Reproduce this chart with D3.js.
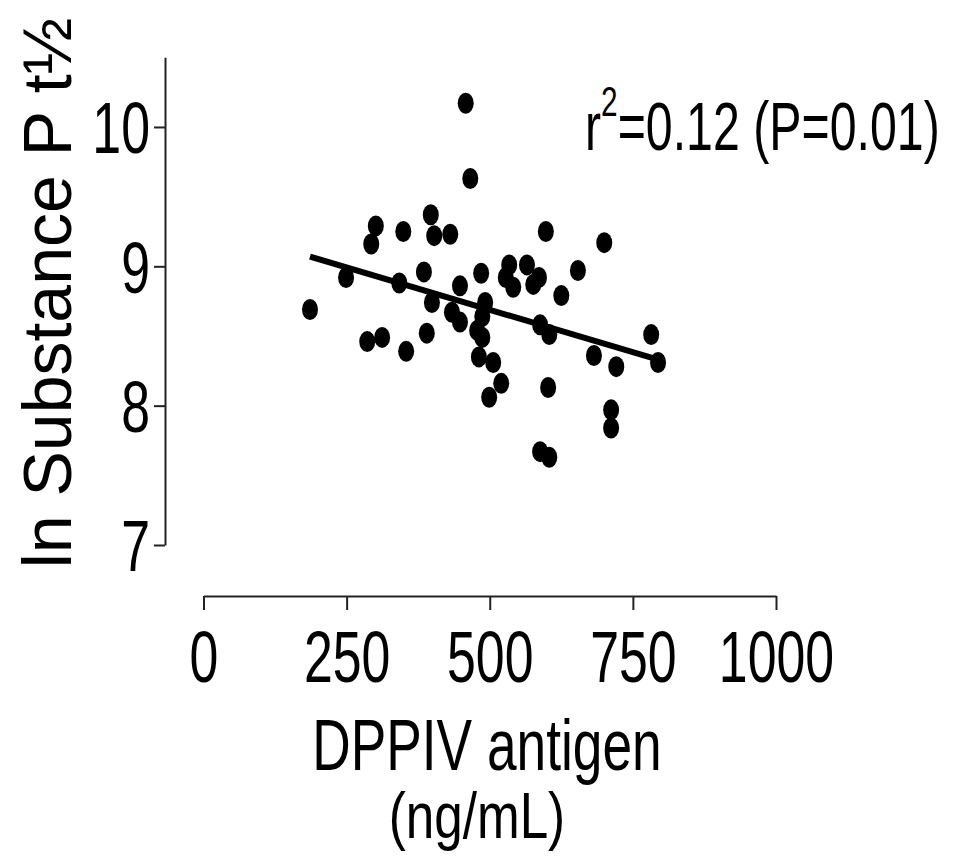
<!DOCTYPE html>
<html>
<head>
<meta charset="utf-8">
<script src="https://cdn.jsdelivr.net/npm/d3@7"></script>
<style>
  body { margin: 0; background: #fff; }
  text { font-family: "Liberation Sans", Arial, sans-serif; }
</style>
</head>
<body>
<script>
// DPPIV antigen (ng/mL) vs ln Substance P t1/2
const dppiv = [458, 466, 397, 301, 293, 349, 403, 431, 598, 249,
               342, 385, 448, 485, 534, 528, 565, 541, 576, 186,
               399, 492, 434, 448, 487, 478, 487, 588, 390, 286,
               312, 354, 481, 506, 520, 499, 588, 700, 586, 654,
               625, 604, 782, 682, 721, 794, 602, 712, 712, 604];
const lnSP  = [10.17, 9.63, 9.37, 9.29, 9.16, 9.25, 9.22, 9.23, 9.25, 8.92,
               8.88, 8.96, 8.86, 8.95, 9.01, 8.92, 9.01, 8.85, 8.87, 8.69,
               8.74, 8.74, 8.67, 8.60, 8.64, 8.54, 8.49, 8.58, 8.52, 8.46,
               8.49, 8.39, 8.35, 8.31, 8.16, 8.06, 7.67, 9.17, 8.92, 8.97,
               8.79, 8.51, 8.51, 8.36, 8.28, 8.31, 8.13, 7.97, 7.84, 7.63];

// regression line end points
const fitX = [186, 794];
const fitY = [9.07, 8.33];

const xTicks = [0, 250, 500, 750, 1000];
const yTicks = [7, 8, 9, 10];

const w = 954,
      h = 859,
      sx = 0.72;   // narrow look, the figure uses a condensed face

const svg = d3.select("body")
              .append("svg")
              .attr("width", w)
              .attr("height", h);

const xScale = d3.scaleLinear()
                 .domain([0, 1000])
                 .range([203.5, 776]);

const yScale = d3.scaleLinear()
                 .domain([7, 10.5])
                 .range([545, 57.3]);

// squeeze a text horizontally round its own x
const narrow = (sel, k) => {
  sel.each(function() {
    const t = d3.select(this);
    const x = +t.attr("x") || 0;
    t.attr("x", x / k).attr("transform", "scale(" + k + ",1)");
  });
};

// y axis
const yAxis = d3.axisLeft(yScale)
                .tickValues(yTicks)
                .tickSizeInner(11)
                .tickSizeOuter(0)
                .tickPadding(4)
                .tickFormat(d3.format("d"));

const yG = svg.append("g")
   .attr("transform", "translate(165,0)")
   .call(yAxis);

// x axis, detached below the plot
const xAxis = d3.axisBottom(xScale)
                .tickValues(xTicks)
                .tickSizeInner(14)
                .tickSizeOuter(0)
                .tickFormat(d3.format("d"));

const xG = svg.append("g")
   .attr("transform", "translate(0,596)")
   .call(xAxis);

[yG, xG].forEach(g => {
  g.attr("font-family", null);
  g.select(".domain").attr("stroke", "#222").attr("stroke-width", 2);
  g.selectAll(".tick line").attr("stroke", "#222").attr("stroke-width", 2);
  g.selectAll(".tick text")
   .attr("fill", "#000")
   .style("font-size", "72px");
});

yG.selectAll(".tick text").attr("dy", "0.36em").call(narrow, sx);
xG.selectAll(".tick text").attr("y", 86).attr("dy", 0).call(narrow, sx);

// points
svg.append("g")
   .selectAll("ellipse")
   .data(dppiv)
   .enter()
   .append("ellipse")
   .attr("cx", d => xScale(d))
   .attr("cy", (d, i) => yScale(lnSP[i]))
   .attr("rx", 8)
   .attr("ry", 10.5)
   .attr("fill", "#000");

// regression line
svg.append("line")
   .attr("x1", xScale(fitX[0]))
   .attr("y1", yScale(fitY[0]))
   .attr("x2", xScale(fitX[1]))
   .attr("y2", yScale(fitY[1]))
   .attr("stroke", "#000")
   .attr("stroke-width", 6);

// annotation
const note = svg.append("text")
   .attr("x", 585)
   .attr("y", 150)
   .style("font-size", "68px");
note.append("tspan").text("r");
note.append("tspan").attr("dy", -34).style("font-size", "42px").text("2");
note.append("tspan").attr("dy", 34).text("=0.12 (P=0.01)");
note.call(narrow, 0.71);

// axis titles
svg.append("text")
   .attr("x", 487)
   .attr("y", 770)
   .attr("text-anchor", "middle")
   .style("font-size", "72px")
   .text("DPPIV antigen")
   .call(narrow, 0.74);

svg.append("text")
   .attr("x", 477)
   .attr("y", 838)
   .attr("text-anchor", "middle")
   .style("font-size", "64px")
   .text("(ng/mL)")
   .call(narrow, 0.8);

svg.append("text")
   .attr("transform", "translate(71,293) rotate(-90)")
   .attr("text-anchor", "middle")
   .style("font-size", "68px")
   .text("ln Substance P t½");
</script>
</body>
</html>
